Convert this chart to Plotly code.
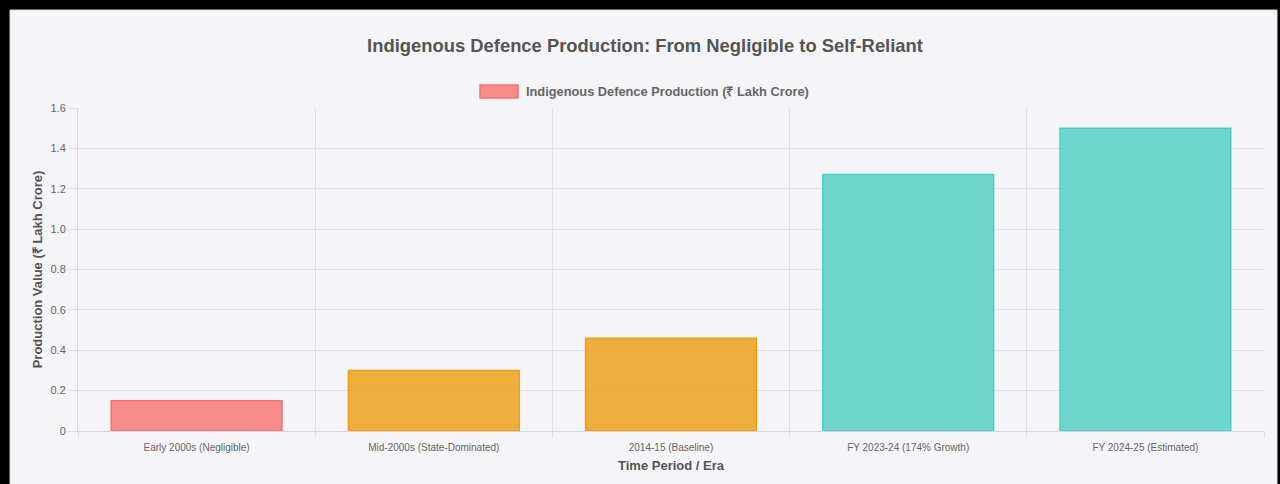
import plotly.graph_objects as go

categories = ["Early 2000s (Negligible)", "Mid-2000s (State-Dominated)", "2014-15 (Baseline)",
              "FY 2023-24 (174% Growth)", "FY 2024-25 (Estimated)"]
values = [0.15, 0.30, 0.46, 1.27, 1.50]
fill_colors = ["rgba(248,113,113,0.8)", "rgba(236,156,15,0.8)", "rgba(236,156,15,0.8)",
               "rgba(78,205,196,0.8)", "rgba(78,205,196,0.8)"]
border_colors = ["#f87171", "#f39c12", "#f39c12", "#4ecdc4", "#4ecdc4"]
y_ticks = [0, 0.2, 0.4, 0.6, 0.8, 1.0, 1.2, 1.4, 1.6]
y_ticktext = ["0", "0.2", "0.4", "0.6", "0.8", "1.0", "1.2", "1.4", "1.6"]
series_name = "Indigenous Defence Production (₹ Lakh Crore)"

W, H = 1280, 484
L, R, T, B = 78, 16, 108, 53
pw, ph = W - L - R, H - T - B

def px(x):
    return (x - L) / pw

def py(y):
    return (H - B - y) / ph

FONT = "Liberation Sans, Arial, Helvetica, sans-serif"
GRID = "#e1e0e5"
BG = "#f5f4f9"

fig = go.Figure()
fig.add_trace(go.Bar(
    x=categories, y=values, name=series_name,
    marker=dict(color=fill_colors, line=dict(color=border_colors, width=1.5)),
    showlegend=False,
))

fig.update_layout(
    width=W, height=H,
    margin=dict(l=L, r=R, t=T, b=B),
    paper_bgcolor="#000000",
    plot_bgcolor="rgba(0,0,0,0)",
    bargap=0.28,
    font=dict(family=FONT, color="#666666"),
    title=dict(text="<b>Indigenous Defence Production: From Negligible to Self-Reliant</b>",
               font=dict(size=18.4, color="#555555", family=FONT),
               xref="container", yref="container", x=645 / W, y=1 - 46 / H,
               xanchor="center", yanchor="middle"),
    xaxis=dict(
        type="category", tickson="boundaries", ticks="outside", ticklen=6,
        tickcolor=GRID, showgrid=True, gridcolor=GRID, gridwidth=1,
        showline=True, linecolor="#d6d5da", linewidth=1,
        tickfont=dict(size=10, color="#666666"), ticklabelstandoff=7,
        title=dict(text="<b>Time Period / Era</b>", font=dict(size=13, color="#555555"), standoff=8),
    ),
    yaxis=dict(
        range=[0, 1.6], tickvals=y_ticks, ticktext=y_ticktext,
        ticks="outside", ticklen=9, tickcolor=GRID,
        showgrid=True, gridcolor=GRID, gridwidth=1, zeroline=False,
        showline=True, linecolor="#d6d5da", linewidth=1,
        tickfont=dict(size=11, color="#666666"),
        title=dict(text="<b>Production Value (₹ Lakh Crore)</b>", font=dict(size=13, color="#555555"), standoff=4),
    ),
    shapes=[
        dict(type="rect", xref="paper", yref="paper", layer="below",
             x0=px(10), x1=px(1277), y0=py(500), y1=py(10),
             fillcolor=BG, line=dict(color="#d8d8d8", width=1)),
        dict(type="rect", xref="paper", yref="paper",
             x0=px(480), x1=px(518), y0=py(98), y1=py(85),
             fillcolor=fill_colors[0], line=dict(color=border_colors[0], width=1.5)),
    ],
    annotations=[
        dict(text="<b>" + series_name + "</b>", xref="paper", yref="paper",
             x=px(524), y=py(91), xanchor="left", yanchor="middle", showarrow=False,
             font=dict(size=12.8, color="#666666", family=FONT)),
    ],
)

fig.write_html("out.html")
